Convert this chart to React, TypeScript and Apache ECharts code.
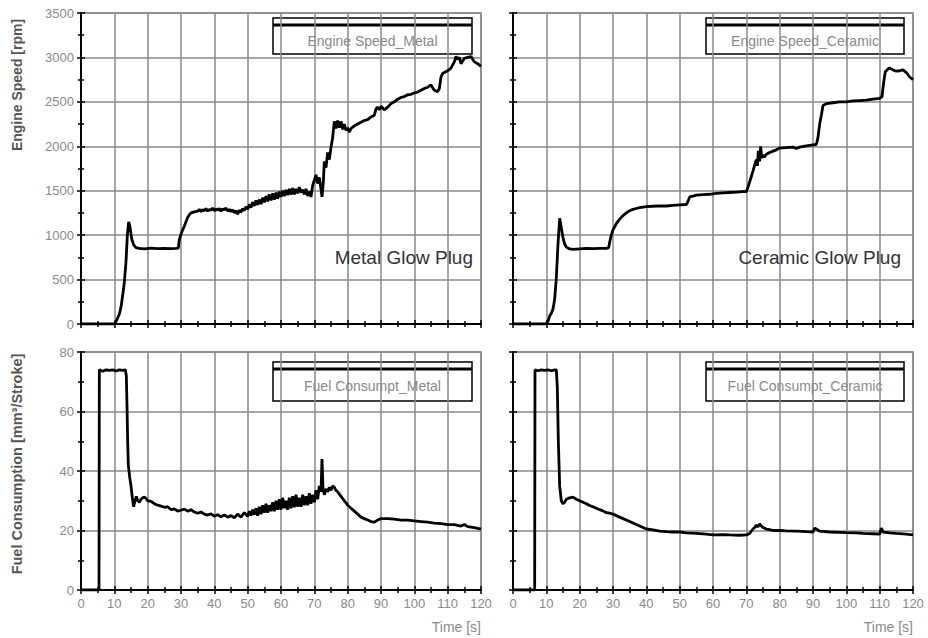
import React, { useEffect, useRef } from "react";
import * as echarts from "echarts";

// ---------- DATA (time [s], value) ----------
const metalSpeed: [number, number][] = [
  [0,0],[10,0],[10.5,25],[11,70],[11.5,110],[12,190],[12.5,320],[13,470],[13.5,700],[13.9,1000],[14.3,1150],[14.7,1090],[15.2,960],[15.8,890],[16.5,860],[17.5,850],[19,845],[21,855],[23,848],[25,852],[27,848],[28.5,850],[29.2,855],[29.5,950],[30,1010],[30.5,1060],[31,1100],[31.5,1150],[32,1200],[32.5,1230],[33,1250],[34,1262],[35,1270],[35.5,1290],[36,1265],[36.5,1285],[37,1275],[37.5,1300],[38,1270],[38.5,1290],[39,1280],[39.5,1305],[40,1275],[40.5,1295],[41,1280],[41.5,1300],[42,1270],[42.5,1295],[43,1285],[43.5,1305],[44,1270],[44.5,1290],[45,1265],[45.5,1285],[46,1250],[46.5,1275],[47,1235],[47.5,1280],[48,1260],[48.5,1300],[49,1275],[49.5,1320],[50,1290],[50.5,1345],[51,1310],[51.5,1370],[52,1330],[52.5,1390],[53,1340],[53.5,1400],[54,1350],[54.5,1420],[55,1370],[55.5,1440],[56,1380],[56.5,1460],[57,1390],[57.5,1470],[58,1400],[58.5,1480],[59,1410],[59.5,1490],[60,1430],[60.5,1500],[61,1440],[61.5,1510],[62,1450],[62.5,1520],[63,1455],[63.5,1530],[64,1460],[64.5,1520],[65,1470],[65.5,1540],[66,1480],[66.5,1510],[67,1460],[67.5,1520],[68,1440],[68.5,1490],[69,1430],[69.5,1560],[70,1620],[70.5,1680],[71,1580],[71.5,1650],[72,1520],[72.3,1430],[72.7,1600],[73,1830],[73.5,1760],[74,1930],[74.5,1850],[75,1990],[75.5,2100],[76,2280],[76.5,2200],[77,2290],[77.5,2210],[78,2280],[78.5,2190],[79,2250],[79.5,2180],[80,2210],[80.5,2160],[81,2200],[82,2230],[83,2250],[84,2270],[85,2290],[86,2300],[87,2330],[88,2350],[88.5,2420],[89,2440],[89.5,2410],[90,2450],[91,2410],[92,2440],[93,2480],[94,2500],[95,2530],[96,2550],[97,2560],[98,2580],[99,2585],[100,2600],[101,2610],[102,2630],[103,2650],[104,2665],[105,2690],[105.5,2660],[106,2630],[107,2615],[107.5,2650],[108,2780],[108.5,2820],[109,2830],[110,2850],[111,2880],[112,2950],[112.5,3010],[113,2980],[113.5,3000],[114,2930],[115,2990],[116,3000],[117,3010],[118,2950],[119,2930],[120,2900]
];

const ceramicSpeed: [number, number][] = [
  [0,0],[10,0],[10.5,30],[11,90],[11.5,120],[12,170],[12.5,280],[13,520],[13.5,900],[14,1190],[14.5,1080],[15,970],[15.5,900],[16,865],[17,845],[18,840],[20,845],[22,850],[24,848],[26,850],[28,852],[28.7,860],[29,920],[29.5,1000],[30,1060],[31,1130],[32,1180],[33,1220],[34,1250],[35,1275],[36,1290],[37,1300],[38,1310],[39,1315],[40,1320],[42,1325],[44,1330],[46,1328],[48,1335],[50,1340],[52,1345],[52.5,1380],[53,1430],[54,1440],[55,1450],[57,1455],[59,1460],[61,1470],[63,1475],[65,1480],[67,1485],[69,1490],[70,1490],[70.5,1540],[71,1600],[71.5,1660],[72,1720],[72.5,1790],[73,1850],[73.3,1780],[73.6,1950],[74,1830],[74.3,2000],[74.6,1870],[75,1900],[75.5,1880],[76,1910],[77,1930],[78,1945],[79,1960],[80,1980],[82,1985],[84,1990],[85,1975],[86,1990],[88,2005],[90,2015],[91,2020],[91.5,2100],[92,2250],[92.5,2350],[93,2460],[94,2480],[96,2490],[98,2500],[100,2500],[102,2510],[104,2515],[106,2520],[108,2530],[110,2540],[110.7,2560],[111.2,2720],[111.7,2840],[112.5,2870],[113,2880],[114,2860],[115,2845],[116,2850],[117,2860],[118,2830],[119,2780],[120,2750]
];

const metalFuel: [number, number][] = [
  [0,0],[5.4,0],[5.5,74],[6.5,73.5],[7.5,74],[8.5,73.8],[9.5,74],[10.5,73.6],[11.5,74],[12.5,73.8],[13.3,74],[13.6,72],[13.8,62],[14,50],[14.2,42],[14.6,38],[15,35],[15.4,31],[15.8,28],[16.2,30],[16.6,31.5],[17,30],[17.5,29.5],[18,30.5],[18.5,31],[19,31.2],[19.5,30.8],[20,30],[21,29.8],[22,29],[23,28.5],[24,28.2],[25,27.8],[26,28],[27,27],[28,27.3],[29,26.5],[30,26.8],[31,27.2],[32,26.5],[33,27],[34,26.2],[35,25.8],[36,26.2],[37,25.5],[38,25.2],[39,25.6],[40,24.8],[41,25.3],[42,24.6],[43,25.2],[44,24.5],[45,25],[46,24.3],[47,25.5],[48,24.5],[49,26],[50,24.8],[50.5,26.5],[51,25],[51.5,27],[52,25.3],[52.5,27.5],[53,25],[53.5,28],[54,25.5],[54.5,28.5],[55,26],[55.5,29],[56,26],[56.5,28.5],[57,26.5],[57.5,29.5],[58,26.5],[58.5,30],[59,27],[59.5,30.5],[60,27],[60.5,31],[61,27.5],[61.5,30],[62,27],[62.5,31],[63,27.5],[63.5,31.5],[64,27.8],[64.5,32],[65,28],[65.5,31],[66,28],[66.5,32],[67,28.5],[67.5,31.5],[68,28.5],[68.5,32.5],[69,29],[69.5,32],[70,29.5],[70.5,33.5],[71,30.5],[71.5,35],[72,33],[72.3,44],[72.6,34],[73,32],[73.5,34],[74,33],[74.5,34.5],[75,33.5],[75.5,35],[76,34.5],[76.5,33.5],[77,33],[78,31.5],[79,30],[80,28.5],[81,27.5],[82,26.5],[83,25.5],[84,24.5],[85,24],[86,23.5],[87,23],[88,22.8],[89,23.5],[90,24],[92,24],[94,23.8],[96,23.5],[98,23.5],[100,23.2],[102,23],[104,22.8],[106,22.5],[108,22.3],[110,22],[112,22],[114,21.5],[115,22],[116,21.3],[118,21],[120,20.5]
];

const ceramicFuel: [number, number][] = [
  [0,0],[6.5,0],[6.6,74],[7.5,73.7],[8.5,74],[9.5,73.8],[10.5,74],[11.5,73.7],[12.5,74],[13,74],[13.3,68],[13.6,50],[14,35],[14.5,30],[15,29],[15.5,29.5],[16,30.5],[17,31],[18,31.2],[19,30.5],[20,30],[21,29.5],[22,29],[23,28.4],[24,28],[25,27.5],[26,27],[27,26.6],[28,26],[29,25.8],[30,25.5],[31,25],[32,24.5],[33,24],[34,23.5],[35,23],[36,22.5],[37,22],[38,21.5],[39,21],[40,20.5],[42,20.2],[44,19.8],[46,19.6],[48,19.5],[50,19.5],[52,19.2],[55,19],[58,18.8],[60,18.5],[63,18.6],[65,18.5],[68,18.4],[70,18.5],[71,19],[72,20.5],[72.5,21],[73,21.8],[73.5,21.2],[74,22.2],[74.5,21.5],[75,21],[76,20.5],[77,20.3],[78,20],[80,20],[82,19.9],[85,19.8],[88,19.6],[90,19.5],[90.5,20.8],[91,20.5],[92,19.8],[95,19.5],[98,19.4],[100,19.3],[103,19.2],[105,19],[108,18.9],[110,18.8],[110.5,20.8],[111,19.5],[113,19.2],[115,19],[118,18.8],[120,18.5]
];

// ---------- labels ----------
const legendNames = ["Engine Speed_Metal", "Engine Speed_Ceramic", "Fuel Consumpt_Metal", "Fuel Consumpt_Ceramic"];
const plugLabels = ["Metal Glow Plug", "Ceramic Glow Plug"];
const yTitles = ["Engine Speed [rpm]", "Fuel Consumption [mm³/Stroke]"];
const xTitle = "Time [s]";
const speedAxis = { min: 0, max: 3500, interval: 500 };
const fuelAxis = { min: 0, max: 80, interval: 20 };
const timeAxis = { min: 0, max: 120, interval: 10 };

const FONT = "'Liberation Sans', Arial, sans-serif";

export default function App() {
  const ref = useRef<HTMLDivElement>(null);

  useEffect(() => {
    if (!ref.current) return;
    const chart = echarts.init(ref.current, null, { renderer: "svg" });

    const grids = [
      { left: 81, top: 13, width: 400, height: 311 },
      { left: 513, top: 13, width: 400, height: 311 },
      { left: 81, top: 352, width: 400, height: 238 },
      { left: 513, top: 352, width: 400, height: 238 },
    ].map((g) => ({ ...g, show: true, borderColor: "#8a8a8a", borderWidth: 1.5, backgroundColor: "#fff" }));

    const tickStyle = { color: "#000", width: 1.5 };
    const fmt = (v: number) => String(v);
    const mkX = (i: number, primary: boolean) => ({
      type: "value",
      gridIndex: i,
      position: "bottom",
      ...timeAxis,
      axisLine: { show: primary, onZero: false, lineStyle: { color: "#000", width: 2 } },
      axisTick: { show: true, inside: !primary, length: 4, lineStyle: tickStyle },
      minorTick: { show: true, splitNumber: 2, length: 3, lineStyle: tickStyle },
      splitLine: { show: primary, lineStyle: { color: "#8a8a8a", width: 1.5 } },
      minorSplitLine: { show: false },
      axisLabel: {
        show: primary && i >= 2,
        color: "#8a8a8a",
        fontSize: 13,
        fontFamily: FONT,
        margin: 7,
        formatter: fmt,
      },
    });
    const mkY = (i: number, primary: boolean) => ({
      type: "value",
      gridIndex: i,
      position: "left",
      ...(i < 2 ? speedAxis : fuelAxis),
      axisLine: { show: primary, onZero: false, lineStyle: { color: "#000", width: 2 } },
      axisTick: { show: true, inside: !primary, length: 4, lineStyle: tickStyle },
      minorTick: { show: true, splitNumber: 2, length: 3, lineStyle: tickStyle },
      splitLine: { show: primary, lineStyle: { color: "#8a8a8a", width: 1.5 } },
      minorSplitLine: { show: false },
      axisLabel: {
        show: primary && (i === 0 || i === 2),
        color: "#8a8a8a",
        fontSize: 13,
        fontFamily: FONT,
        margin: 7,
        formatter: fmt,
      },
    });

    const xAxes = [0, 1, 2, 3].map((i) => mkX(i, true)).concat([0, 1, 2, 3].map((i) => mkX(i, false)));
    const yAxes = [0, 1, 2, 3].map((i) => mkY(i, true)).concat([0, 1, 2, 3].map((i) => mkY(i, false)));

    const datasets = [metalSpeed, ceramicSpeed, metalFuel, ceramicFuel];
    const series = datasets.map((d, i) => ({
      type: "line",
      name: legendNames[i],
      xAxisIndex: i,
      yAxisIndex: i,
      data: d,
      showSymbol: false,
      symbol: "none",
      lineStyle: { color: "#000", width: 2.8 },
      z: 5,
    }));

    // legend boxes
    const legendPos = [
      { x: 273, y: 18, w: 199, h: 36 },
      { x: 706, y: 18, w: 198, h: 36 },
      { x: 273, y: 362, w: 199, h: 39 },
      { x: 706, y: 362, w: 198, h: 39 },
    ];
    const legendGraphics = legendPos.map((p, i) => ({
      type: "group",
      z: 100,
      children: [
        { type: "rect", shape: { x: p.x, y: p.y, width: p.w, height: p.h }, style: { fill: "#fff", stroke: "#000", lineWidth: 1.5 } },
        { type: "line", shape: { x1: p.x, y1: p.y + 7, x2: p.x + p.w, y2: p.y + 7 }, style: { stroke: "#000", lineWidth: 3 } },
        {
          type: "text",
          x: p.x + p.w / 2,
          y: p.y + 7 + (p.h - 7) / 2 + 1,
          style: {
            text: legendNames[i],
            fill: "#8a8a8a",
            fontSize: 14,
            fontFamily: FONT,
            align: "center",
            verticalAlign: "middle",
            textAlign: "center",
            textVerticalAlign: "middle",
          },
        },
      ],
    }));

    const textEl = (text: string, x: number, y: number, opts: any) => ({
      type: "text",
      x,
      y,
      z: 100,
      rotation: opts.rotation || 0,
      style: {
        text,
        fill: opts.fill,
        fontSize: opts.fontSize,
        fontWeight: opts.fontWeight || "normal",
        fontFamily: FONT,
        align: opts.align || "center",
        verticalAlign: "middle",
        textAlign: opts.align || "center",
        textVerticalAlign: "middle",
      },
    });

    const graphics = [
      ...legendGraphics,
      textEl(plugLabels[0], 473, 257, { fill: "#333", fontSize: 19, align: "right" }),
      textEl(plugLabels[1], 901, 257, { fill: "#333", fontSize: 19, align: "right" }),
      textEl(yTitles[0], 17, 85, { fill: "#555", fontSize: 14, fontWeight: "bold", rotation: Math.PI / 2 }),
      textEl(yTitles[1], 17, 464, { fill: "#555", fontSize: 14.5, fontWeight: "bold", rotation: Math.PI / 2 }),
      textEl(xTitle, 481, 627, { fill: "#8a8a8a", fontSize: 14, align: "right" }),
      textEl(xTitle, 913, 627, { fill: "#8a8a8a", fontSize: 14, align: "right" }),
    ];

    chart.setOption({
      animation: false,
      backgroundColor: "#fff",
      grid: grids,
      xAxis: xAxes,
      yAxis: yAxes,
      series,
      graphic: graphics,
    } as any);

    return () => chart.dispose();
  }, []);

  return <div ref={ref} style={{ position: "absolute", left: 0, top: 0, width: 928, height: 638 }} />;
}
